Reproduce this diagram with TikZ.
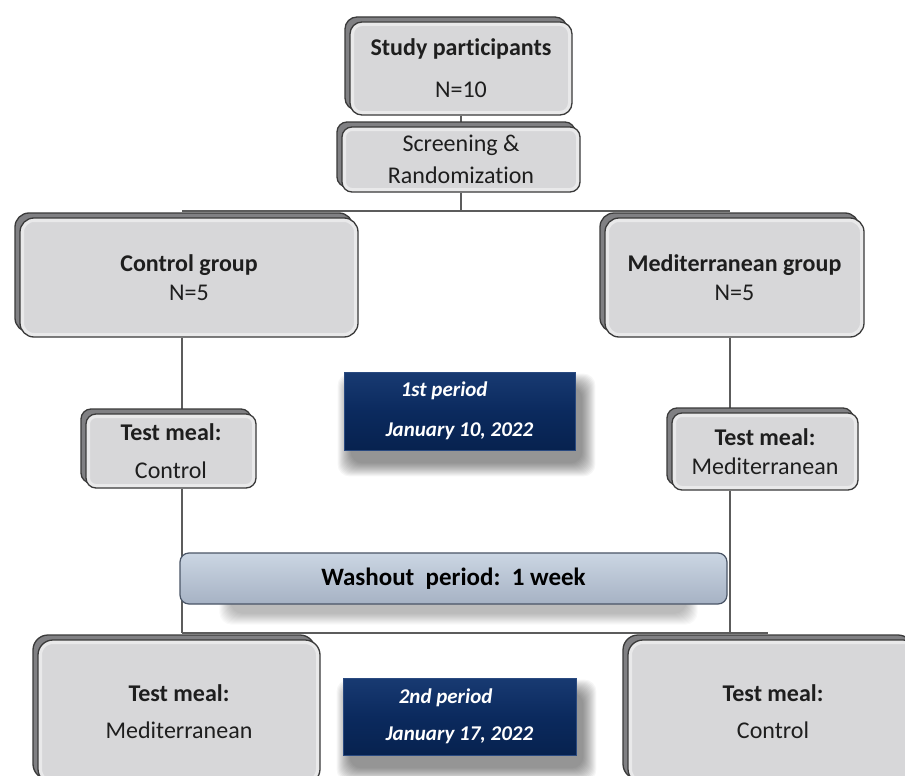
\documentclass[tikz,border=0pt]{standalone}
\usepackage{fontspec}
\setmainfont{Carlito}[Ligatures={NoCommon}]
\usetikzlibrary{shadows,backgrounds}

\definecolor{boxfill}{HTML}{D7D7D9}
\definecolor{boxedge}{HTML}{3A3A3A}
\definecolor{backfill}{HTML}{808083}
\definecolor{linec}{HTML}{5C5C5C}
\definecolor{navy}{HTML}{0B2A5E}
\definecolor{navytop}{HTML}{183A72}
\definecolor{navybot}{HTML}{07224F}
\definecolor{navyedge}{HTML}{2A4A80}
\definecolor{washtop}{HTML}{CBD6E3}
\definecolor{washbot}{HTML}{A6B2C4}
\definecolor{washedge}{HTML}{4A5566}
\definecolor{txt}{HTML}{1E1E1E}

\tikzset{
  gbox/.style={draw=boxedge, line width=1.3pt, fill=boxfill, rounded corners=#1,
    inner sep=0pt, align=center, text=txt,
    font=\fontsize{24}{29}\selectfont,
    copy shadow={shadow xshift=-5pt, shadow yshift=5pt, fill=backfill, draw=boxedge, line width=1.3pt},
    path picture={\draw[white, opacity=0.45, line width=8pt, rounded corners=#1]
      (path picture bounding box.south west) rectangle (path picture bounding box.north east);}},
  gbox/.default=12pt,
  pbox/.style={draw=navyedge, line width=0.8pt, top color=navytop, bottom color=navybot,
    middle color=navy, inner sep=0pt, align=left, text=white,
    font=\fontsize{21}{25}\selectfont\bfseries\itshape},
  wbox/.style={draw=washedge, line width=1.2pt, top color=washtop, bottom color=washbot,
    rounded corners=9pt, inner sep=0pt, align=center, text=black,
    font=\fontsize{25}{30}\selectfont\bfseries},
  softshade/.style={fill=black, opacity=#1, rounded corners=12pt},
  conn/.style={draw=linec, line width=1.6pt}
}

\begin{document}
\begin{tikzpicture}[x=1pt,y=-1pt]
\useasboundingbox (0,0) rectangle (905,776);
\clip (0,0) rectangle (905,776);

\node[gbox, minimum width=222pt, minimum height=93pt] (study) at (461,68.5)
  {\textbf{Study participants}\\[13pt]N=10};
\node[gbox=10pt, minimum width=238pt, minimum height=65pt] (screen) at (461,159.5)
  {Screening \&\\[3pt]Randomization};
\node[gbox=14pt, minimum width=338pt, minimum height=119pt] (ctrl) at (189,277.5)
  {\textbf{Control group}\\N=5};
\node[gbox=14pt, minimum width=259pt, minimum height=119pt] (med) at (734.5,277.5)
  {\textbf{Mediterranean group}\\N=5};
\node[gbox=10pt, minimum width=170pt, minimum height=74pt] (tmc) at (171,451)
  {\textbf{Test meal:}\\[9pt]Control};
\node[gbox=10pt, minimum width=186pt, minimum height=77pt] (tmm) at (765,451.5)
  {\textbf{Test meal:}\\Mediterranean};
\node[pbox, minimum width=231pt, minimum height=78pt] (p1) at (459.5,411)
  {\hspace*{15pt}1st period\\[15pt]January 10, 2022};
\node[wbox, minimum width=547pt, minimum height=51pt] (wash) at (453.5,578.5)
  {Washout\ \ period:\ \ 1 week};
\node[gbox=15pt, minimum width=282pt, minimum height=144pt] (bl) at (179,712)
  {\textbf{Test meal:}\\[8pt]Mediterranean};
\node[gbox=15pt, minimum width=290pt, minimum height=144pt] (br) at (773,712)
  {\textbf{Test meal:}\\[8pt]Control};
\node[pbox, minimum width=233pt, minimum height=77pt] (p2) at (459.5,716.5)
  {\hspace*{13pt}2nd period\\[12pt]January 17, 2022};

\coordinate (L) at (182,211);
\coordinate (R) at (730,211);
\coordinate (BL) at (182,633);
\coordinate (BR) at (730,633);
\coordinate (BE) at (768,633);

\begin{scope}[on background layer]
  \fill[white] (0,0) rectangle (905,776);
  % soft shadows of the period boxes and of the washout bar
  \foreach \n in {p1,p2} {
    \foreach \i in {0,...,13} {
      \fill[softshade=0.035]
        ([shift={(-6+\i,2+\i)}]\n.north west) rectangle ([shift={(20-\i,26-\i)}]\n.south east);
    }
  }
  \foreach \i in {0,...,11} {
    \fill[softshade=0.022]
      ([shift={(40+\i,0+\i)}]wash.north west) rectangle ([shift={(-30-\i,20-\i)}]wash.south east);
  }
  \draw[conn] (study.south) -- (screen.north);
  \draw[conn] (screen.south) -- (screen.south |- L);
  \draw[conn] (L) -- (R);
  \draw[conn] (ctrl.south -| L) -- (tmc.north -| L);
  \draw[conn] (tmc.south -| L) -- (BL);
  \draw[conn] (med.south -| R) -- (tmm.north -| R);
  \draw[conn] (tmm.south -| R) -- (BR);
  \draw[conn] (BL) -- (BE);
\end{scope}
\end{tikzpicture}
\end{document}
